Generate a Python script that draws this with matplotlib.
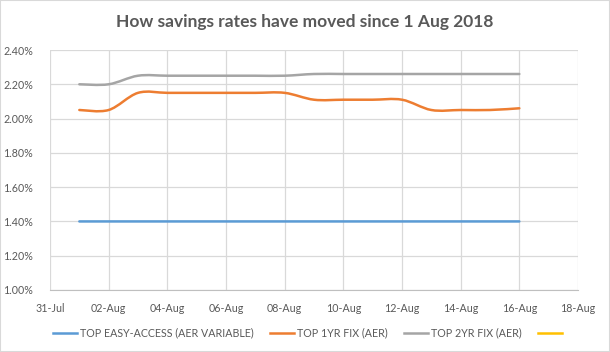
import matplotlib
matplotlib.use("Agg")
import matplotlib.pyplot as plt
import matplotlib.dates as mdates
from matplotlib.path import Path
from matplotlib.patches import PathPatch, Rectangle
from matplotlib.lines import Line2D
import numpy as np
import datetime as dt

plt.rcParams['font.family'] = ['Lato', 'DejaVu Sans']

dates = ["2018-08-01", "2018-08-02", "2018-08-03", "2018-08-04", "2018-08-05",
         "2018-08-06", "2018-08-07", "2018-08-08", "2018-08-09", "2018-08-10",
         "2018-08-11", "2018-08-12", "2018-08-13", "2018-08-14", "2018-08-15",
         "2018-08-16"]
easy_access = [1.40, 1.40, 1.40, 1.40, 1.40, 1.40, 1.40, 1.40, 1.40, 1.40,
               1.40, 1.40, 1.40, 1.40, 1.40, 1.40]
fix_1yr = [2.05, 2.05, 2.15, 2.15, 2.15, 2.15, 2.15, 2.15, 2.11, 2.11,
           2.11, 2.11, 2.05, 2.05, 2.05, 2.06]
fix_2yr = [2.20, 2.20, 2.25, 2.25, 2.25, 2.25, 2.25, 2.25, 2.26, 2.26,
           2.26, 2.26, 2.26, 2.26, 2.26, 2.26]
series_names = ["TOP EASY-ACCESS (AER VARIABLE)", "TOP 1YR FIX (AER)",
                "TOP 2YR FIX (AER)", ""]
colors = ["#5b9bd5", "#ed7d31", "#a5a5a5", "#ffc000"]
title = "How savings rates have moved since 1 Aug 2018"

x = mdates.date2num([dt.datetime.strptime(d, "%Y-%m-%d") for d in dates])


def smooth_path(xs, ys):
    pts = np.column_stack([xs, ys])
    n = len(pts)
    verts = [pts[0]]
    codes = [Path.MOVETO]
    for i in range(n - 1):
        p0 = pts[i - 1] if i > 0 else pts[i]
        p1 = pts[i]
        p2 = pts[i + 1]
        p3 = pts[i + 2] if i + 2 < n else pts[i + 1]
        c1 = p1 + (p2 - p0) / 6.0
        c2 = p2 - (p3 - p1) / 6.0
        verts += [c1, c2, p2]
        codes += [Path.CURVE4] * 3
    return Path(verts, codes)


fig = plt.figure(figsize=(6.10, 3.52), dpi=100)
ax = fig.add_axes([50 / 610, 1 - 290 / 352, 528 / 610, 240 / 352])

for ys, c in zip([easy_access, fix_1yr, fix_2yr], colors[:3]):
    patch = PathPatch(smooth_path(x, ys), facecolor="none", edgecolor=c,
                      lw=1.8, capstyle="round", joinstyle="round", zorder=3)
    ax.add_patch(patch)

x0 = mdates.date2num(dt.datetime(2018, 7, 31))
x1 = mdates.date2num(dt.datetime(2018, 8, 18))
ax.set_xlim(x0, x1)
ax.set_ylim(1.0, 2.4)
ax.set_xticks(np.arange(x0, x1 + 0.5, 2))
ax.xaxis.set_major_formatter(mdates.DateFormatter("%d-%b"))
ax.set_yticks(np.arange(1.0, 2.41, 0.2))
ax.yaxis.set_major_formatter(matplotlib.ticker.FuncFormatter(lambda v, p: f"{v:.2f}%"))

ax.grid(True, color="#d9d9d9", lw=0.9)
ax.set_axisbelow(True)
for s in ax.spines.values():
    s.set_visible(False)
ax.spines["bottom"].set_visible(True)
ax.spines["bottom"].set_color("#bfbfbf")
ax.tick_params(length=0, labelsize=7.7, labelcolor="#595959")
ax.tick_params(axis="y", pad=12)
ax.tick_params(axis="x", pad=9)

fig.text(0.5, 1 - 22 / 352, title, ha="center", va="center",
         fontsize=12.5, fontweight="bold", color="#595959")

handles = [Line2D([], [], color=c, lw=1.8) for c in colors]
fig.legend(handles, series_names, loc="center", bbox_to_anchor=(0.507, 1 - 333 / 352),
           ncol=4, frameon=False, fontsize=7.7, labelcolor="#595959",
           handlelength=2.2, handletextpad=0.35, columnspacing=1.5)

fig.patches.append(Rectangle((0, 0), 1, 1, transform=fig.transFigure,
                             fill=False, edgecolor="#d9d9d9", lw=1.5))

fig.savefig("out.png", dpi=100)
